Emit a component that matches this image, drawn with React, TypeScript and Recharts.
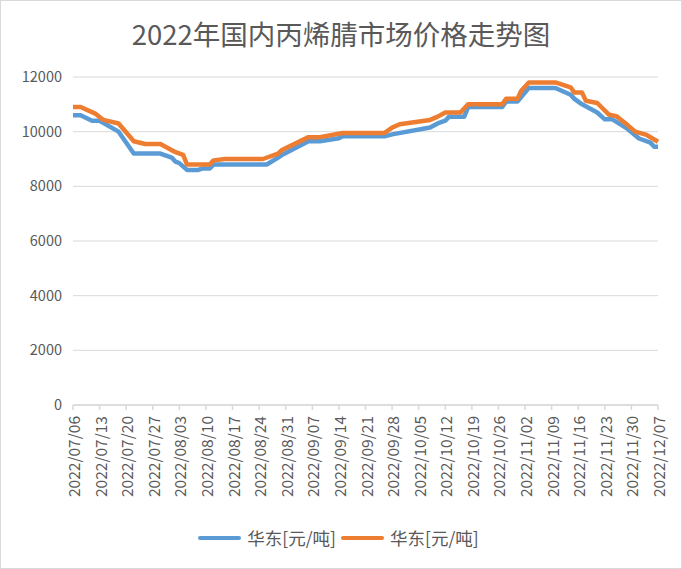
import { LineChart, Line, XAxis, YAxis, CartesianGrid } from "recharts";

// days counted from 2022/07/06, values in 元/吨
const blueDays = [
  0, 2, 5, 7, 12, 16, 23, 26, 27, 28, 30, 33, 34, 36, 37, 51, 54, 55, 62, 65,
  70, 71, 82, 84, 94, 96, 98, 99, 103, 104, 113, 114, 117, 120, 127, 131, 132,
  134, 138, 140, 142, 146, 149, 152, 153, 154,
];
const blueValues = [
  10600, 10600, 10400, 10400, 10000, 9200, 9200, 9050, 8900, 8850, 8600, 8600,
  8650, 8650, 8800, 8800, 9050, 9150, 9650, 9650, 9760, 9830, 9830, 9900,
  10150, 10300, 10400, 10550, 10550, 10900, 10900, 11100, 11100, 11600, 11600,
  11350, 11200, 11000, 10700, 10450, 10450, 10100, 9750, 9600, 9450, 9450,
];

const orangeDays = [
  0, 2, 6, 8, 12, 16, 19, 23, 27, 29, 30, 36, 37, 40, 50, 54, 55, 62, 65, 71,
  82, 84, 86, 94, 96, 98, 102, 104, 113, 114, 117, 118, 120, 127, 131, 132,
  134, 135, 138, 141, 143, 146, 148, 151, 154,
];
const orangeValues = [
  10900, 10900, 10650, 10430, 10300, 9650, 9550, 9550, 9250, 9150, 8800, 8800,
  8950, 9000, 9000, 9200, 9330, 9800, 9800, 9950, 9950, 10150, 10270, 10430,
  10550, 10700, 10700, 11000, 11000, 11200, 11200, 11500, 11800, 11800, 11620,
  11430, 11430, 11130, 11050, 10630, 10570, 10240, 10000, 9880, 9630,
];

const tickLabels = [
  "2022/07/06", "2022/07/13", "2022/07/20", "2022/07/27", "2022/08/03",
  "2022/08/10", "2022/08/17", "2022/08/24", "2022/08/31", "2022/09/07",
  "2022/09/14", "2022/09/21", "2022/09/28", "2022/10/05", "2022/10/12",
  "2022/10/19", "2022/10/26", "2022/11/02", "2022/11/09", "2022/11/16",
  "2022/11/23", "2022/11/30", "2022/12/07",
];
const yTicks = [0, 2000, 4000, 6000, 8000, 10000, 12000];

const BLUE = "#5B9BD5";
const ORANGE = "#ED7D31";
const TEXT = "#595959";
const FONT = "'Noto Sans CJK SC', 'Noto Sans', sans-serif";

const blueData = blueDays.map((d, i) => ({ day: d, value: blueValues[i] }));
const orangeData = orangeDays.map((d, i) => ({ day: d, value: orangeValues[i] }));
const xTicks = tickLabels.map((_, i) => i * 7);

function DateTick(props: any) {
  const { x, y, payload } = props;
  const ty = y + 4;
  return (
    <text
      x={x}
      y={ty}
      transform={`rotate(-90 ${x} ${ty})`}
      textAnchor="end"
      dominantBaseline="central"
      fill={TEXT}
      fontSize={15.5}
      fontFamily={FONT}
    >
      {tickLabels[payload.value / 7]}
    </text>
  );
}

function LegendItem({ color }: { color: string }) {
  return (
    <div style={{ display: "flex", alignItems: "center", marginRight: 5 }}>
      <div
        style={{
          width: 43,
          height: 4.5,
          borderRadius: 3,
          background: color,
          marginRight: 6,
        }}
      />
      <span style={{ fontSize: 17.5, color: TEXT, lineHeight: "22px" }}>
        华东[元/吨]
      </span>
    </div>
  );
}

export default function App() {
  return (
    <div
      style={{
        position: "absolute",
        left: 0,
        top: 0,
        width: 682,
        height: 569,
        background: "#fff",
        fontFamily: FONT,
      }}
    >
      <div
        style={{
          position: "absolute",
          top: 13,
          width: 682,
          textAlign: "center",
          fontSize: 27.5,
          lineHeight: "40px",
          color: TEXT,
        }}
      >
        2022年国内丙烯腈市场价格走势图
      </div>
      <LineChart
        width={682}
        height={569}
        margin={{ top: 77, right: 24, left: 0, bottom: 0 }}
      >
        <CartesianGrid vertical={false} stroke="#d9d9d9" strokeWidth={1} />
        <XAxis
          type="number"
          dataKey="day"
          domain={[0, 154]}
          ticks={xTicks}
          interval={0}
          height={164}
          stroke="#d9d9d9"
          strokeWidth={1.5}
          tickSize={5}
          tick={<DateTick />}
          allowDuplicatedCategory={false}
        />
        <YAxis
          type="number"
          domain={[0, 12000]}
          ticks={yTicks}
          width={73}
          axisLine={false}
          tickLine={false}
          tickMargin={5}
          tick={{ fill: TEXT, fontSize: 14.5, fontFamily: FONT }}
        />
        <Line
          data={blueData}
          dataKey="value"
          type="linear"
          stroke={BLUE}
          strokeWidth={4.5}
          strokeLinejoin="round"
          dot={false}
          isAnimationActive={false}
        />
        <Line
          data={orangeData}
          dataKey="value"
          type="linear"
          stroke={ORANGE}
          strokeWidth={4.5}
          strokeLinejoin="round"
          dot={false}
          isAnimationActive={false}
        />
      </LineChart>
      <div
        style={{
          position: "absolute",
          top: 527,
          width: 682,
          display: "flex",
          justifyContent: "center",
        }}
      >
        <LegendItem color={BLUE} />
        <LegendItem color={ORANGE} />
      </div>
      <div
        style={{
          position: "absolute",
          left: 0,
          top: 0,
          width: 680,
          height: 567,
          border: "1px solid #d9d9d9",
          pointerEvents: "none",
        }}
      />
    </div>
  );
}
